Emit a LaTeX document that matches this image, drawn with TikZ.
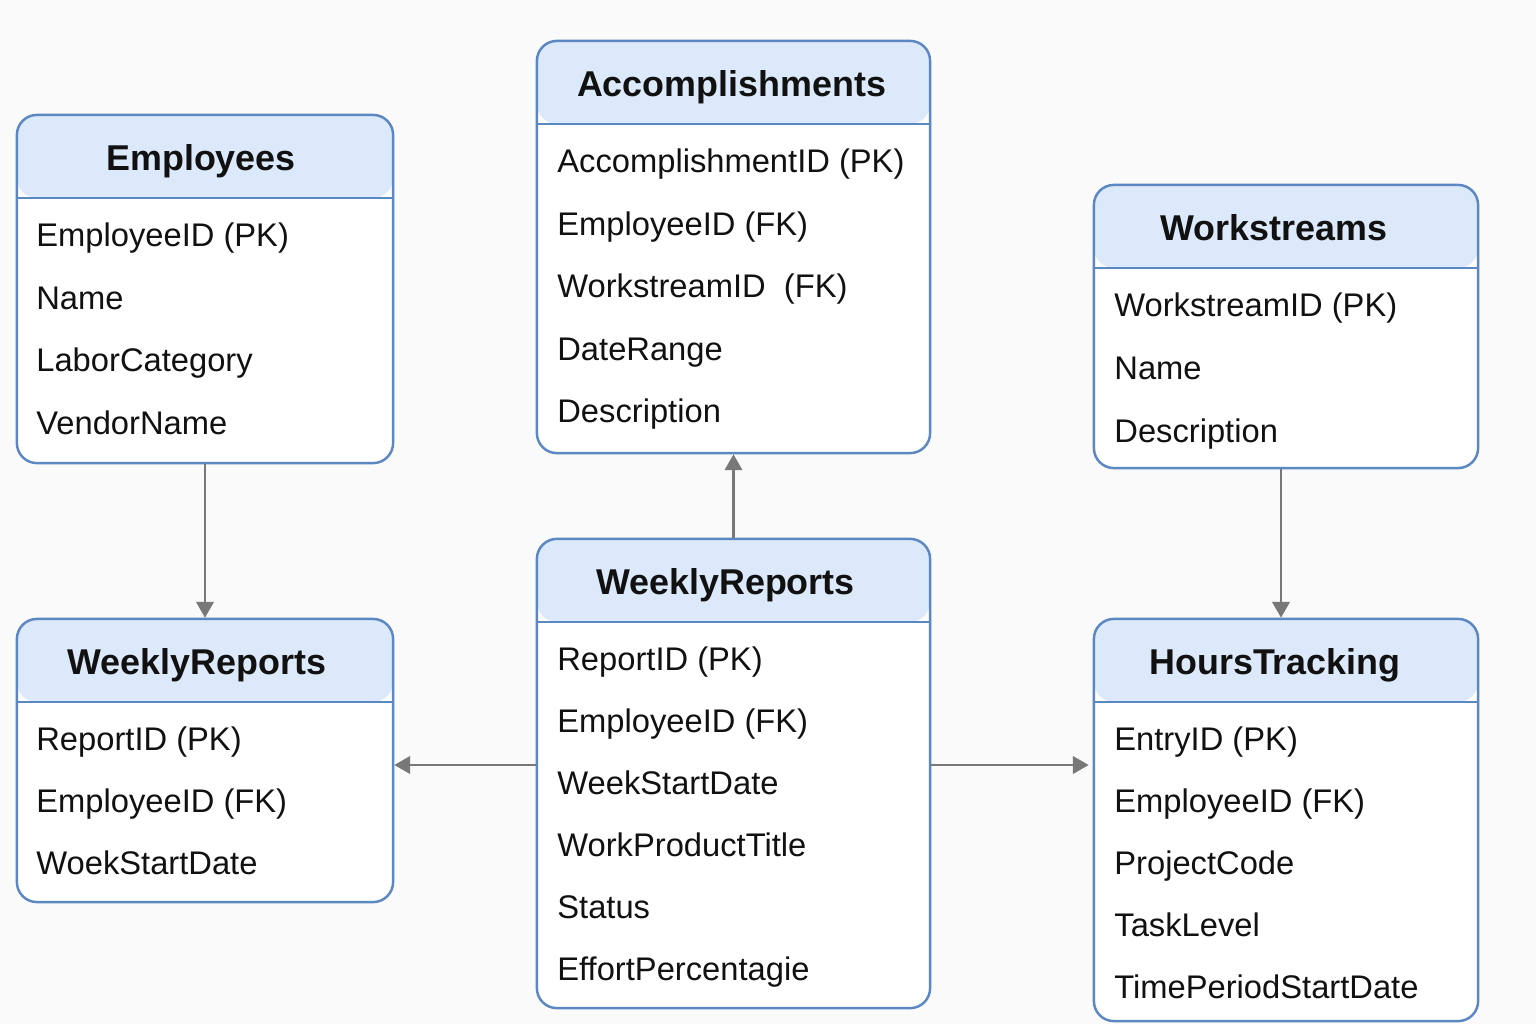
\documentclass[tikz,border=0pt]{standalone}
\usepackage{fontspec}
\setmainfont{Liberation Sans}
\usetikzlibrary{arrows.meta}

\definecolor{fondo}{HTML}{FAFAFA}
\definecolor{borde}{HTML}{5B87C2}
\definecolor{cabecera}{HTML}{DCE9FA}
\definecolor{gris}{HTML}{787878}
\definecolor{tinta}{HTML}{111111}

\tikzset{
	tabla/.style={draw=borde, line width=0.7pt, fill=white, rounded corners=0.2cm,
		inner sep=0pt, path picture={
			\fill[cabecera] (path picture bounding box.north west) rectangle ([yshift=-0.83cm]path picture bounding box.north east);
			\draw[borde, line width=0.7pt] ([yshift=-0.83cm]path picture bounding box.north west) -- ([yshift=-0.83cm]path picture bounding box.north east);}},
	titulo/.style={anchor=base, inner sep=0pt, text=tinta, font=\bfseries\fontsize{10.2}{12}\selectfont},
	campo/.style={anchor=base west, inner sep=0pt, text=tinta, font=\fontsize{9.3}{11}\selectfont},
	flecha/.style={draw=gris, line width=0.6pt, -{Triangle[length=4.5pt, width=5pt]}, fill=gris}
}

\begin{document}
\begin{tikzpicture}[x=0.01cm, y=-0.01cm]
	\fill[fondo] (0,0) rectangle (1536,1024);
	\useasboundingbox (0,0) rectangle (1536,1024);

	% las tablas
	\node[tabla, minimum width=3.76cm, minimum height=3.48cm] (emp) at (205,289) {};
	\node[tabla, minimum width=3.93cm, minimum height=4.12cm] (acc) at (733.5,247) {};
	\node[tabla, minimum width=3.84cm, minimum height=2.83cm] (ws) at (1286,326.5) {};
	\node[tabla, minimum width=3.76cm, minimum height=2.83cm] (wrl) at (205,760.5) {};
	\node[tabla, minimum width=3.93cm, minimum height=4.69cm] (wrc) at (733.5,773.5) {};
	\node[tabla, minimum width=3.84cm, minimum height=4.02cm] (ht) at (1286,820) {};

	% titulos
	\node[titulo] (empT) at ([xshift=-0.04cm, yshift=-0.57cm]emp.north) {Employees};
	\node[titulo] (accT) at ([xshift=-0.02cm, yshift=-0.57cm]acc.north) {Accomplishments};
	\node[titulo] (wsT) at ([xshift=-0.12cm, yshift=-0.57cm]ws.north) {Workstreams};
	\node[titulo] (wrlT) at ([xshift=-0.08cm, yshift=-0.57cm]wrl.north) {WeeklyReports};
	\node[titulo] (wrcT) at ([xshift=-0.08cm, yshift=-0.57cm]wrc.north) {WeeklyReports};
	\node[titulo] (htT) at ([xshift=-0.11cm, yshift=-0.57cm]ht.north) {HoursTracking};

	% campos
	\foreach \t [count=\i] in {EmployeeID (PK), Name, LaborCategory, VendorName}
		\node[campo] (emp-\i) at ([xshift=0.2cm, yshift={-(1.33+(\i-1)*0.625)*1cm}]emp.north west) {\t};
	\foreach \t [count=\i] in {AccomplishmentID (PK), EmployeeID (FK), WorkstreamID\ \ (FK), DateRange, Description}
		\node[campo] (acc-\i) at ([xshift=0.21cm, yshift={-(1.33+(\i-1)*0.625)*1cm}]acc.north west) {\t};
	\foreach \t [count=\i] in {WorkstreamID (PK), Name, Description}
		\node[campo] (ws-\i) at ([xshift=0.21cm, yshift={-(1.33+(\i-1)*0.63)*1cm}]ws.north west) {\t};
	\foreach \t [count=\i] in {ReportID (PK), EmployeeID (FK), WoekStartDate}
		\node[campo] (wrl-\i) at ([xshift=0.2cm, yshift={-(1.33+(\i-1)*0.62)*1cm}]wrl.north west) {\t};
	\foreach \t [count=\i] in {ReportID (PK), EmployeeID (FK), WeekStartDate, WorkProductTitle, Status, EffortPercentagie}
		\node[campo] (wrc-\i) at ([xshift=0.21cm, yshift={-(1.33+(\i-1)*0.62)*1cm}]wrc.north west) {\t};
	\foreach \t [count=\i] in {EntryID (PK), EmployeeID (FK), ProjectCode, TaskLevel, TimePeriodStartDate}
		\node[campo] (ht-\i) at ([xshift=0.21cm, yshift={-(1.33+(\i-1)*0.62)*1cm}]ht.north west) {\t};

	% relaciones
	\draw[flecha] (emp.south) -- (wrl.north);
	\draw[flecha] (wrc.north) -- (acc.south);
	\draw[flecha] ([xshift=-0.05cm]ws.south) -- ([xshift=-0.05cm]ht.north);
	\draw[flecha] (wrc.west |- 0,765) -- (wrl.east |- 0,765);
	\draw[flecha] (wrc.east |- 0,765) -- ([xshift=-0.04cm]ht.west |- 0,765);
\end{tikzpicture}
\end{document}
